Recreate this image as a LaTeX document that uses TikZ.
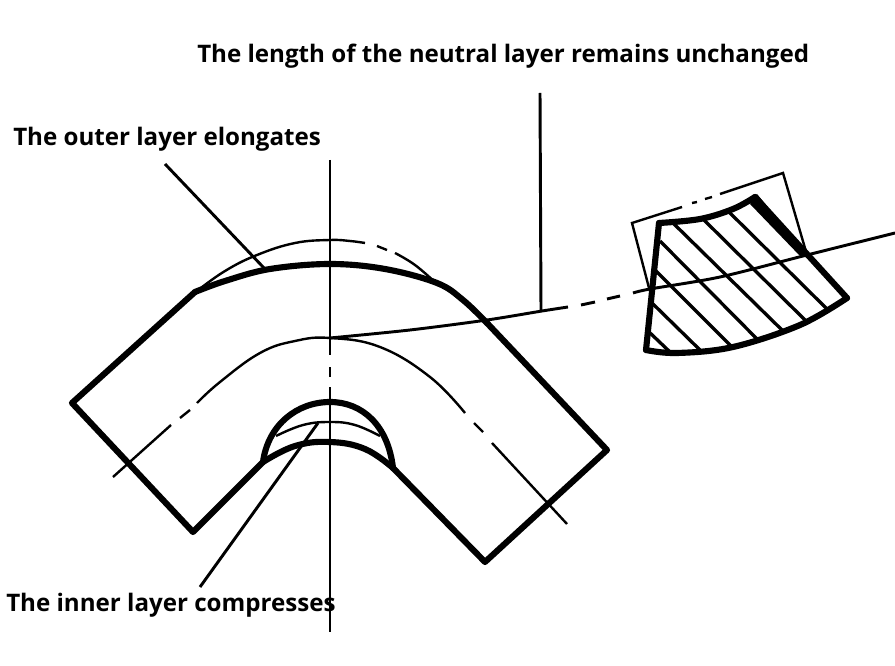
\documentclass[tikz,border=0pt]{standalone}
\usepackage{fontspec}
\setmainfont{Open Sans}
\begin{document}
\begin{tikzpicture}[x=0.75pt,y=-0.75pt,
  thickline/.style={line width=4.6pt,line join=round,line cap=round},
  thinline/.style={line width=1.8pt},
  midline/.style={line width=2.2pt},
  hatchline/.style={line width=2.5pt},
  labeltext/.style={anchor=base west,inner sep=0pt,font=\bfseries\fontsize{18.1pt}{21pt}\selectfont}]
\useasboundingbox[fill=white] (0,0) rectangle (895,666);
% labels
\node[labeltext] (neutral) at (197,63) {The length of the neutral layer remains unchanged};
\node[labeltext] (outer) at (13,146) {The outer layer elongates};
\node[labeltext] (inner) at (6,611) {The inner layer compresses};
% axis
\draw[midline] (330,160) -- (330,355) (330,367) -- (330,377) (330,387) -- (330,632);
% outer thin arc
\draw[thinline] plot[smooth,tension=0.7] coordinates {(197,291) (225,271) (257,255) (295,243) (330,240) (350,241) (365,243)};
\draw[thinline] (377,246) -- (387,250);
\draw[thinline] plot[smooth,tension=0.7] coordinates {(395,253) (415,265) (437,284)};
% neutral layer
\draw[thinline] (113,477) -- (171,425) (180,418) -- (190,410);
\draw[thinline] plot[smooth,tension=0.7] coordinates {(197,403) (220,382) (260,353) (295,341) (330,338) (380,347) (430,377) (465,413)};
\draw[thinline] (474,423) -- (483,432) (492,443) -- (567,524);
\draw[midline] plot[smooth,tension=0.5] coordinates {(330,338) (410,330) (487,320) (542,311) (568,307)};
\draw[midline] (581,305) -- (595,302) (607,299) -- (620,296);
\draw[midline] plot[smooth,tension=0.5] coordinates {(633,293) (650,289) (720,277) (807,255) (895,233)};
% leaders
\coordinate (outerend) at (264,268);
\coordinate (outerstart) at (165,164);
\coordinate (neutralstart) at (540,93);
\coordinate (neutralend) at (541,311);
\coordinate (innerstart) at (200,587);
\coordinate (innerend) at (318,423);
\draw[midline] (outerstart) -- (outerend);
\draw[midline] (neutralstart) -- (neutralend);
\draw[midline] (innerstart) -- (innerend);
% bend outline
\draw[thickline] (195,292) -- (72,403) -- (193,532) -- (263,462);
\draw[thickline] plot[smooth,tension=0.6] coordinates {(195,292) (225,281) (270,269) (330,264) (385,269) (437,283) (463,300) (487,323)};
\draw[thickline] (487,323) -- (607,450) -- (485,562) -- (393,468);
\draw[thickline] plot[smooth,tension=0.7] coordinates {(263,462) (295,446) (330,442) (365,449) (393,468)};
\draw[thickline] (263,462) .. controls (268,425) and (297,402) .. (330,402) .. controls (362,402) and (388,425) .. (393,468);
\draw[thinline] plot[smooth,tension=0.7] coordinates {(276,436) (303,425) (330,422) (355,425) (380,436)};
% section frame
\draw[thinline] (649,288) -- (632,223) -- (682,207) (692,203) -- (697,202) (705,199) -- (712,197) (720,194) -- (783,173) -- (807,255);
% hatching
\draw[hatchline] (648,331) -- (670,352) (652,303) -- (700,350) (656,271) -- (731,346) (660,241) -- (758,340)
  (674,224) -- (784,332) (703,219) -- (807,322) (728,211) -- (828,310);
% section outline
\draw[thickline] (659,223) -- (646,350);
\draw[thickline] plot[smooth,tension=0.6] coordinates {(659,223) (700,219) (733,209) (755,197)};
\draw[thickline] (755,197) -- (847,298);
\fill (757,194) -- (810,258) -- (800,256) -- (750,204) -- cycle;
\draw[thickline] plot[smooth,tension=0.6] coordinates {(847,298) (800,325) (733,347) (677,353) (646,350)};
\end{tikzpicture}
\end{document}
